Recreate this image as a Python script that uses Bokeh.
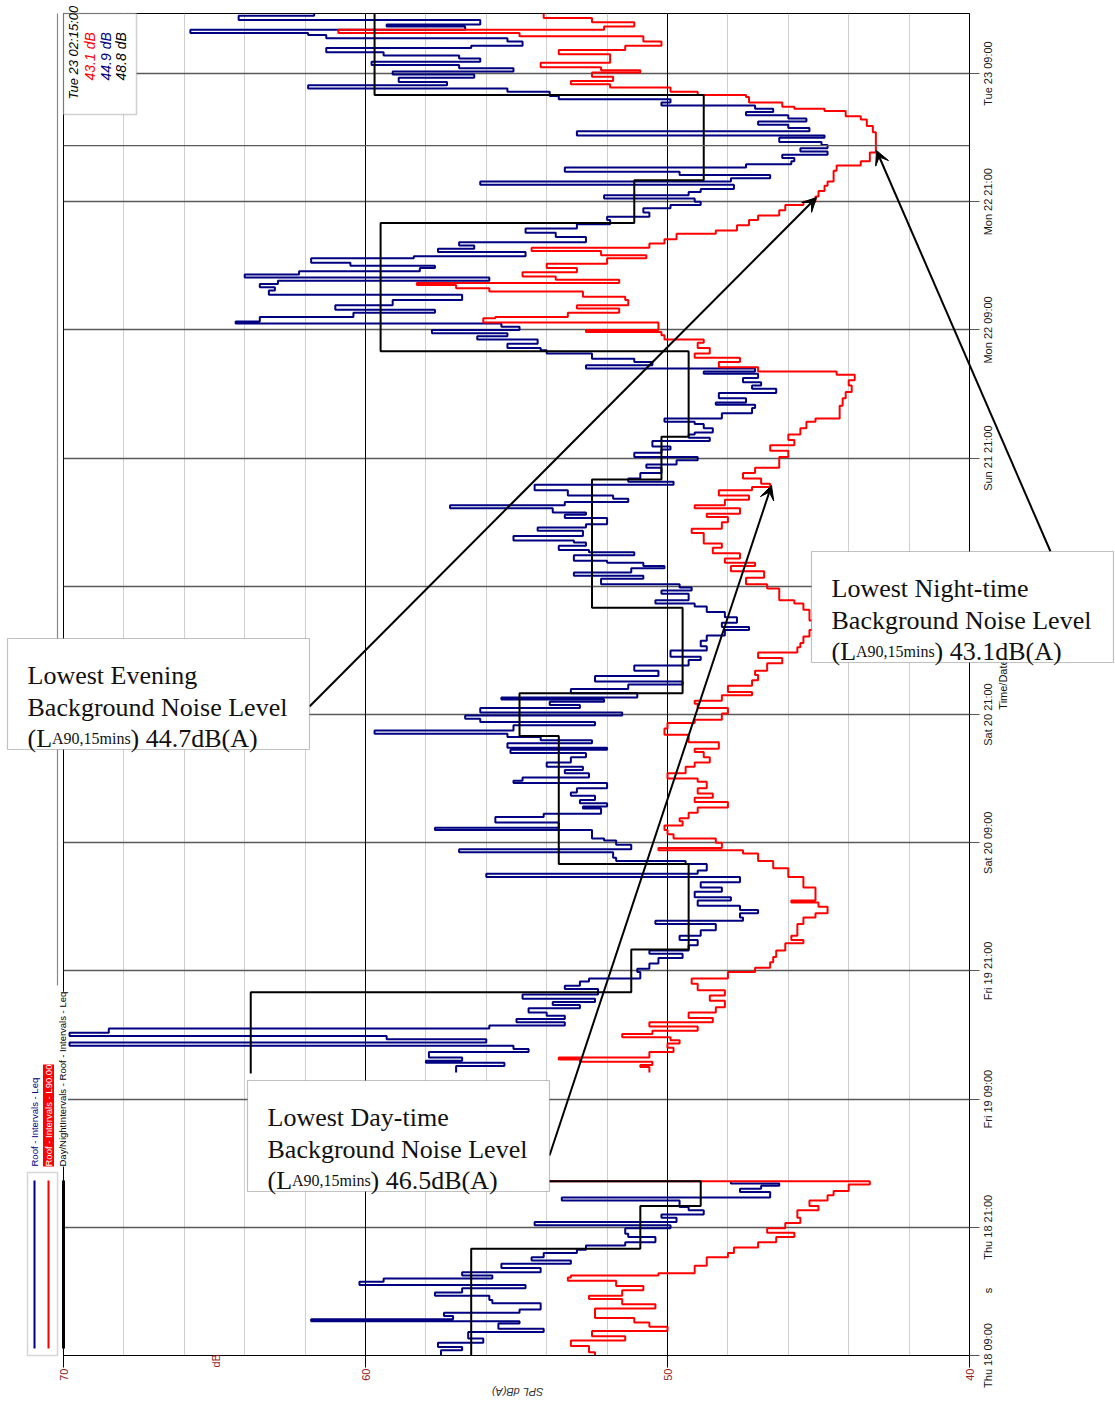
import numpy as np
from math import pi
from bokeh.plotting import figure
from bokeh.models import (Range1d, FixedTicker, Grid, Span, BoxAnnotation,
                          Label, Arrow, VeeHead)
from bokeh.embed import file_html
from bokeh.resources import INLINE

# ---------------- data (time in hours after Thu 18 09:00, level in dB) -------------
tick_hours = [0, 12, 24, 36, 48, 60, 72, 84, 96, 108, 120]
tick_labels = ["Thu 18 09:00", "Thu 18 21:00", "Fri 19 09:00", "Fri 19 21:00",
               "Sat 20 09:00", "Sat 20 21:00", "Sun 21 09:00", "Sun 21 21:00",
               "Mon 22 09:00", "Mon 22 21:00", "Tue 23 09:00"]
db_ticks = [70, 60, 50, 40]
db_minor = list(range(40, 71, 2))
db_major = [60, 50]
t_end_a = 16.3
t_end_b = 125.62
cursor_hour = 113.25
l90_gap_level = 55.0

leq_a_t = [0.0, 0.5, 0.8, 1.2, 1.6, 2.2, 2.5, 3.0, 3.2, 3.4, 3.7, 4.0, 4.3, 4.9, 5.2, 5.6,
           5.9, 6.3, 6.6, 6.9, 7.2, 7.5, 7.8, 8.2, 8.6, 8.9, 9.2, 9.6, 9.9, 10.3, 10.6,
           11.1, 11.4, 11.9, 12.2, 12.5, 12.9, 13.2, 13.6, 13.9, 14.5, 14.8, 15.3,
           15.6, 15.9, 16.1]
leq_a_v = [57.5, 56.8, 57.6, 56.1, 56.6, 54.1, 55.6, 54.9, 61.8, 57.1, 57.4, 54.9, 54.2,
           55.8, 55.9, 57.7, 56.8, 54.7, 60.2, 59.4, 55.8, 56.8, 54.2, 55.5, 53.2, 54.5,
           54.1, 53.0, 52.7, 51.4, 50.4, 51.3, 51.4, 49.9, 54.4, 49.7, 50.2, 48.8, 49.3,
           49.6, 53.5, 46.6, 47.6, 46.9, 46.3, 47.9]

leq_b_t = [26.5, 27.1, 27.4, 27.6, 27.9, 28.4, 28.7, 29.0, 29.3, 29.6, 29.9, 30.2, 30.6,
           30.9, 31.2, 31.5, 31.8, 32.1, 32.5, 32.8, 33.1, 33.4, 33.8, 34.3, 34.6, 35.0,
           35.3, 35.9, 36.2, 36.7, 37.2, 37.6, 37.9, 38.4, 38.9, 39.3, 39.8, 40.4, 40.7,
           41.0, 41.4, 41.7, 42.1, 42.6, 42.9, 43.4, 43.8, 44.3, 44.8, 45.1, 45.4, 46.0,
           46.3, 46.6, 47.1, 47.4, 47.8, 48.2, 48.4, 49.2, 49.4, 49.9, 50.4, 50.7, 51.2,
           51.4, 51.7, 52.0, 52.4, 52.7, 53.1, 53.6, 53.8, 54.1, 54.5, 54.8, 55.1, 55.5,
           56.0, 56.4, 56.7, 56.9, 57.3, 57.6, 57.9, 58.2, 58.5, 59.0, 59.3, 59.6, 59.9,
           60.2, 60.6, 60.9, 61.2, 61.4, 61.6, 62.0, 62.4, 62.8, 63.1, 63.6, 64.1, 64.6,
           65.1, 65.4, 66.0, 66.4, 66.9, 67.4, 67.9, 68.2, 68.6, 69.1, 69.6, 70.1, 70.4,
           70.7, 71.3, 71.6, 71.9, 72.2, 72.7, 73.0, 73.3, 73.7, 73.9, 74.2, 74.4, 74.9,
           75.2, 75.4, 75.8, 76.1, 76.3, 76.7, 77.2, 77.5, 77.8, 78.4, 78.7, 78.9, 79.3,
           79.6, 79.9, 80.2, 80.5, 81.0, 81.5, 81.8, 82.1, 82.6, 83.1, 83.4, 83.8, 84.1,
           84.5, 84.8, 85.1, 85.6, 85.9, 86.2, 86.4, 86.8, 87.2, 87.4, 87.7, 88.2, 88.7,
           89.0, 89.2, 89.6, 90.1, 90.5, 90.8, 91.1, 91.5, 91.9, 92.1, 92.4, 92.7, 93.0,
           93.3, 93.8, 94.1, 94.3, 94.7, 95.1, 95.4, 95.7, 96.0, 96.3, 96.6, 96.8, 97.2,
           97.6, 97.9, 98.3, 98.8, 99.1, 99.3, 99.7, 100.0, 100.3, 100.6, 100.9, 101.2,
           101.5, 101.8, 102.0, 102.3, 102.7, 102.9, 103.3, 103.6, 103.9, 104.2, 104.7,
           105.1, 105.5, 105.9, 106.3, 106.6, 107.0, 107.4, 107.7, 108.0, 108.3, 108.6,
           108.9, 109.2, 109.6, 109.9, 110.2, 110.5, 110.8, 111.2, 111.5, 111.8, 112.1,
           112.4, 112.7, 113.0, 113.3, 113.6, 114.0, 114.2, 114.6, 114.9, 115.2, 115.5,
           115.8, 116.1, 116.4, 116.7, 117.0, 117.3, 117.6, 117.9, 118.3, 118.6, 118.9,
           119.2, 119.6, 119.9, 120.2, 120.5, 120.8, 121.1, 121.4, 121.7, 122.0, 122.4,
           122.6, 123.0, 123.3, 123.6, 123.8, 124.1, 124.4, 124.6, 125.0, 125.4]
leq_b_v = [57.0, 55.4, 58.0, 56.8, 57.9, 54.6, 55.1, 69.8, 56.0, 59.3, 69.8, 68.5, 55.9,
           53.4, 55.0, 53.4, 54.0, 54.6, 52.9, 53.8, 52.4, 54.8, 52.3, 53.4, 52.9, 52.6,
           50.9, 51.0, 50.6, 50.3, 49.5, 50.6, 49.3, 49.0, 49.6, 48.9, 48.4, 50.4, 47.5,
           47.6, 47.0, 47.6, 49.0, 47.9, 49.1, 48.2, 48.9, 47.6, 56.0, 49.0, 48.7, 49.4,
           51.7, 51.8, 56.9, 51.2, 51.7, 52.1, 52.5, 57.7, 53.6, 55.7, 54.1, 52.2, 52.8,
           52.0, 52.9, 52.4, 53.2, 53.0, 52.0, 55.1, 54.8, 52.6, 53.4, 52.8, 54.0, 53.2,
           52.7, 55.2, 52.0, 55.3, 52.5, 54.2, 55.3, 59.7, 55.1, 52.4, 56.2, 56.7, 51.5,
           56.2, 52.9, 53.9, 52.1, 55.5, 51.0, 53.2, 51.3, 49.5, 52.4, 50.3, 51.1, 49.3,
           48.9, 49.9, 48.7, 48.9, 48.7, 48.1, 47.3, 48.2, 47.7, 48.1, 48.7, 49.1, 50.4,
           49.3, 50.2, 49.2, 49.6, 52.2, 50.8, 53.1, 51.2, 50.1, 50.8, 52.0, 53.1, 51.1,
           52.6, 53.6, 52.7, 53.1, 55.1, 52.8, 54.3, 52.7, 52.0, 53.4, 52.7, 53.8, 57.2,
           53.4, 51.3, 51.8, 53.3, 54.4, 49.8, 51.3, 50.9, 50.2, 50.7, 49.7, 49.0, 51.1,
           50.2, 49.9, 50.5, 48.6, 49.3, 49.1, 48.5, 48.8, 49.1, 50.1, 48.2, 47.2, 47.1,
           48.4, 47.4, 48.3, 46.4, 47.2, 46.9, 47.5, 47.0, 48.8, 47.1, 52.7, 50.5, 51.1,
           52.5, 54.0, 54.2, 55.3, 54.3, 56.3, 55.3, 57.8, 54.9, 55.5, 64.3, 63.5, 60.4,
           57.7, 61.0, 59.1, 56.8, 56.8, 63.2, 63.0, 63.5, 62.9, 55.9, 64.0, 62.2,
           58.2, 57.7, 60.5, 61.8, 58.4, 54.7, 57.6, 56.4, 56.9, 52.7, 53.7,
           54.7, 53.0, 51.9, 52.0, 50.6, 50.8, 49.9, 48.9, 49.1, 52.1, 49.3,
           48.9, 47.8, 56.2, 47.9, 46.6, 49.6, 53.4, 47.4, 45.9, 45.8, 46.2,
           44.7, 45.6, 44.7, 44.9, 46.3, 44.8, 53.0, 45.3, 46.0, 47.0, 45.4,
           46.0, 47.4, 46.5, 47.1, 50.2, 49.9, 53.6, 53.9, 55.3, 61.9, 57.3,
           58.9, 56.4, 59.1, 55.1, 56.9, 59.8, 56.2, 56.9, 59.4, 61.3, 56.5,
           54.8, 55.3, 61.3, 61.9, 65.8, 56.7, 59.3, 56.2, 64.2, 61.7]

l90_a_t = [0.0, 0.3, 0.9, 1.4, 1.8, 2.3, 2.7, 3.1, 3.5, 4.4, 4.8, 5.3, 5.6, 6.1, 6.5, 7.0,
           7.3, 7.5, 7.7, 8.4, 9.2, 9.6, 10.1, 10.6, 11.1, 11.5, 11.9, 12.4, 12.9, 13.6,
           14.0, 14.5, 15.0, 15.4, 16.0]
l90_a_v = [52.4, 52.6, 53.2, 51.4, 52.5, 50.0, 50.6, 51.1, 52.4, 50.4, 51.5, 52.6, 51.5,
           50.8, 51.7, 53.3, 53.2, 50.3, 49.1, 48.7, 48.0, 47.8, 47.0, 46.4, 45.8, 46.7,
           46.1, 45.6, 45.7, 45.0, 45.3, 44.7, 44.5, 44.0, 43.3]

l90_b_t = [26.5, 27.0, 27.2, 27.5, 27.7, 27.9, 28.4, 28.8, 29.2, 29.5, 29.8, 30.1, 30.4,
           30.8, 31.2, 31.6, 32.1, 32.6, 33.2, 33.7, 34.2, 34.8, 35.3, 35.9, 36.3, 36.8,
           37.3, 37.9, 38.6, 38.9, 39.3, 39.8, 40.4, 41.0, 41.4, 42.0, 42.4, 42.6, 43.8,
           44.8, 45.6, 46.3, 47.0, 47.3, 47.5, 48.0, 48.4, 48.8, 49.2, 49.6, 50.0, 50.3,
           50.8, 51.3, 51.8, 52.2, 52.6, 53.1, 53.7, 54.0, 54.5, 55.1, 55.5, 56.0, 56.5,
           56.8, 57.4, 58.1, 58.7, 59.2, 59.5, 60.1, 60.6, 61.0, 61.3, 61.8, 62.1, 62.7,
           63.2, 63.7, 64.1, 64.8, 65.3, 65.8, 66.3, 66.7, 67.3, 67.9, 68.8, 69.8, 70.4,
           70.7, 71.8, 72.2, 72.8, 73.4, 73.9, 74.2, 74.6, 75.1, 75.6, 76.0, 77.0, 77.4,
           78.0, 78.5, 78.8, 79.3, 79.6, 80.1, 80.5, 81.0, 81.3, 81.6, 82.1, 82.6, 83.1,
           84.1, 84.7, 85.2, 85.7, 86.2, 86.8, 87.4, 87.7, 88.9, 89.6, 90.2, 90.8, 91.3,
           91.8, 92.1, 92.5, 93.0, 93.4, 93.8, 94.3, 94.8, 95.1, 95.5, 95.8, 96.0, 96.7,
           97.1, 97.2, 97.6, 98.0, 98.3, 98.8, 99.1, 99.6, 99.9, 100.2, 100.4, 100.7,
           101.0, 101.4, 101.8, 102.2, 102.7, 103.0, 103.4, 103.7, 104.1, 104.5, 105.0,
           105.3, 105.8, 106.3, 106.7, 107.2, 107.7, 108.0, 108.5, 109.0, 109.5, 109.9,
           110.9, 111.4, 111.8, 112.6, 114.5, 115.1, 115.7, 116.0, 116.5, 116.7, 116.9,
           117.3, 117.8, 118.0, 118.3, 118.7, 119.0, 119.3, 119.7, 120.1, 120.3, 120.6,
           121.0, 121.8, 122.2, 122.6, 123.0, 123.5, 123.8, 124.1, 124.4, 124.8, 125.2]
l90_b_v = [50.6, 50.9, 50.5, 52.9, 53.6, 50.6, 49.8, 50.0, 49.6, 49.9, 51.5, 50.5, 49.0,
           50.6, 48.5, 49.3, 48.4, 48.1, 48.6, 48.1, 49.0, 49.2, 48.0, 47.1, 46.6, 46.5,
           46.4, 46.1, 45.5, 45.9, 45.7, 45.7, 45.5, 45.1, 44.7, 45.0, 45.9, 45.1, 45.5,
           46.0, 46.5, 47.0, 47.5, 50.3, 48.2, 48.4, 49.8, 50.0, 50.1, 49.5, 49.6, 49.3,
           49.0, 48.0, 49.1, 48.5, 49.0, 48.7, 49.0, 50.0, 49.4, 49.1, 48.6, 48.8, 49.1,
           48.3, 49.3, 50.1, 50.0, 49.1, 48.2, 48.0, 49.0, 49.1, 48.2, 47.2, 48.0, 47.2,
           47.0, 47.1, 46.7, 46.2, 47.0, 45.7, 45.6, 45.5, 45.3, 45.2, 45.3, 45.5, 45.8,
           46.3, 46.7, 47.4, 46.8, 47.9, 47.1, 48.1, 47.6, 48.5, 48.2, 48.8, 49.2, 48.2,
           48.0, 48.7, 47.6, 49.1, 48.1, 47.3, 48.3, 47.2, 46.6, 46.9, 47.5, 47.1, 46.3,
           46.0, 46.6, 45.8, 46.0, 45.6, 45.4, 45.1, 44.3, 44.2, 44.1, 43.9, 44.0, 43.8,
           44.4, 47.0, 48.3, 47.6, 49.1, 48.6, 49.0, 48.8, 50.1, 50.2, 52.7, 50.3, 56.1,
           55.7, 53.3, 51.6, 53.0, 51.3, 51.4, 52.8, 55.9, 57.0, 58.3, 51.6, 53.7,
           54.8, 53.0, 54.0, 52.0, 50.7, 52.2, 54.5, 50.6, 50.1, 49.7, 48.4,
           47.7, 47.3, 47.0, 46.3, 46.1, 45.5, 45.1, 45.0, 44.8, 44.7, 44.5,
           44.4, 43.6, 43.3, 43.1, 43.2, 43.4, 43.6, 44.1, 44.8, 45.8, 46.2,
           47.3, 47.4, 49.0, 49.9, 51.9, 53.2, 51.8, 52.5, 50.9, 52.2, 54.2,
           51.9, 53.6, 51.4, 50.2, 50.8, 54.9, 60.9, 52.1, 51.1, 52.5, 54.1]

dn_a_t = [0.0, 10.0, 14.0]
dn_a_v = [56.5, 50.9, 48.9]
dn_b_t = [26.4, 34.0, 38.0, 46.0, 58.0, 62.0, 70.0, 82.0, 86.0, 94.0, 106.0, 110.0, 118.0]
dn_b_v = [63.8, 51.2, 49.3, 53.6, 54.9, 49.5, 52.5, 50.2, 49.3, 59.5, 51.1, 48.8, 59.7]

cursor_texts = ["Tue 23 02:15:00", "43.1 dB", "44.9 dB", "48.8 dB"]
legend_texts = ["Roof - Intervals - Leq", "Roof - Intervals - L90.00",
                "Day/NightIntervals - Roof - Intervals - Leq"]

# ---------------- helpers ----------------
def vstep(t, v, t_end):
    xs, ys = [], []
    for i in range(len(t)):
        tn = t[i + 1] if i + 1 < len(t) else t_end
        xs += [v[i], v[i]]
        ys += [t[i], tn]
    return xs, ys

BLUE = "#000080"
RED = "#ff0000"
SANS = "Liberation Sans"
SERIF = "Liberation Serif"
W, H = 1115, 1405
B_LEFT, B_RIGHT, B_TOP, B_BOTTOM = 63, 146, 13, 50

# ================= main chart =================
p = figure(width=W, height=H, output_backend="svg", toolbar_location=None,
           x_range=Range1d(70, 40), y_range=Range1d(0, t_end_b),
           y_axis_location="right", min_border_left=B_LEFT, min_border_right=B_RIGHT,
           min_border_top=B_TOP, min_border_bottom=B_BOTTOM)
p.outline_line_color = "black"
p.outline_line_width = 1

xa = p.xaxis[0]
xa.ticker = FixedTicker(ticks=db_ticks)
xa.major_label_orientation = pi / 2
xa.major_label_text_color = "#9b1c1c"
xa.major_label_text_font = SANS
xa.major_label_text_font_size = "11px"
xa.major_tick_out = 12
xa.major_tick_in = 0
xa.minor_tick_out = 0
xa.minor_tick_in = 0
xa.major_label_standoff = 1
xa.axis_line_color = "black"

ya = p.yaxis[0]
ya.ticker = FixedTicker(ticks=tick_hours)
ya.major_label_overrides = {h: "" for h in tick_hours}   # labels drawn centred below
ya.major_tick_out = 10
ya.major_tick_in = 0
ya.major_tick_line_color = "#555555"
ya.minor_tick_out = 0
ya.minor_tick_in = 0
ya.axis_line_color = "black"

p.xgrid.ticker = FixedTicker(ticks=db_minor)
p.xgrid.grid_line_color = "#cfcfcf"
p.xgrid.grid_line_width = 1
p.add_layout(Grid(dimension=0, ticker=FixedTicker(ticks=db_major),
                  grid_line_color="black", grid_line_width=1))
p.ygrid.ticker = FixedTicker(ticks=tick_hours)
p.ygrid.grid_line_color = "#5a5a5a"
p.ygrid.grid_line_width = 1.3
p.add_layout(Span(location=cursor_hour, dimension="width", line_color="#5a5a5a",
                  line_width=1.3))

xs, ys = vstep(leq_a_t, leq_a_v, t_end_a)
p.line(xs, ys, line_color=BLUE, line_width=2)
xs, ys = vstep(leq_b_t, leq_b_v, t_end_b)
p.line(xs, ys, line_color=BLUE, line_width=2)

xs, ys = vstep(l90_a_t, l90_a_v, t_end_a)
xs.append(l90_gap_level); ys.append(t_end_a)
p.line(xs, ys, line_color=RED, line_width=2)
xs, ys = vstep(l90_b_t, l90_b_v, t_end_b)
p.line(xs, ys, line_color=RED, line_width=2)

xs, ys = vstep(dn_a_t, dn_a_v, t_end_a)
xs.append(dn_b_v[0]); ys.append(t_end_a)
p.line(xs, ys, line_color="black", line_width=2)
xs, ys = vstep(dn_b_t, dn_b_v, t_end_b)
p.line(xs, ys, line_color="black", line_width=2)

# ================= annotation layer (page pixels, drawn over the chart) =================
q = figure(width=W, height=H, output_backend="svg", toolbar_location=None,
           x_range=Range1d(0, W), y_range=Range1d(H, 0),
           x_axis_type=None, y_axis_type=None,
           min_border_left=0, min_border_right=0, min_border_top=0, min_border_bottom=0)
q.background_fill_alpha = 0
q.border_fill_alpha = 0
q.outline_line_color = None
q.grid.visible = False
q.styles = {"position": "absolute", "top": "0px", "left": "0px"}
# a time scale on the overlay that coincides with the chart's time axis
k = (H - B_TOP - B_BOTTOM) / t_end_b
q.extra_y_ranges = {"hours": Range1d(-B_BOTTOM / k, (H - B_BOTTOM) / k)}

def lab(x, y, text, angle=pi / 2, align="left", size="11px", color="#111111",
        style="normal", font=SANS, baseline="middle", **kw):
    q.add_layout(Label(x=x, y=y, text=text, angle=angle, text_align=align,
                       text_baseline=baseline, text_font=font, text_font_size=size,
                       text_color=color, text_font_style=style, **kw))

# time tick labels, centred on the ticks
for h, s in zip(tick_hours, tick_labels):
    lab(987, h, s, align="center", y_range_name="hours", color="#1a1a1a")

# cursor read-out box
q.add_layout(BoxAnnotation(left=63, right=136, top=13, bottom=114, fill_color="white",
                           fill_alpha=1, line_color="#666666", line_width=1.5))
lab(73, 99, cursor_texts[0], size="13px", style="italic", color="black")
for px, txt, col in zip([89, 105, 120], cursor_texts[1:], [RED, BLUE, "black"]):
    lab(px, 80, txt, size="14px", style="italic", color=col)

# axis texts
lab(215, 1367, "dB", color="#9b1c1c")
lab(517, 1391, "SPL dB(A)", angle=pi, align="center", style="italic", color="#333333")
lab(1002, 684, "Time/Date", align="center")
lab(987, 1290, "s", align="center")

# legend
q.add_layout(Arrow(end=None, x_start=57, y_start=13, x_end=57, y_end=985,
                   line_color="#888888", line_width=1.2))
q.add_layout(BoxAnnotation(left=27, right=57, top=1172, bottom=1355, fill_alpha=0,
                           line_color="#777777", line_width=1.5))
for px, col, lw in [(34, BLUE, 2), (48, RED, 2), (63, "black", 3)]:
    q.add_layout(Arrow(end=None, x_start=px, y_start=1180, x_end=px, y_end=1348,
                       line_color=col, line_width=lw))
lab(34, 1166, legend_texts[0], size="9.5px", color=BLUE)
lab(48, 1166, legend_texts[1], size="9.5px", color="white", background_fill_color=RED)
lab(62, 1166, legend_texts[2], size="9.5px", color="black", background_fill_color="white")

# arrows
for (sx, sy), (ex, ey) in [((1050, 551), (876, 150)), ((309, 706), (816, 197)),
                           ((549, 1155), (771, 485))]:
    q.add_layout(Arrow(end=VeeHead(size=14, fill_color="black", line_color="black"),
                       x_start=sx, y_start=sy, x_end=ex, y_end=ey,
                       line_color="black", line_width=2))

# annotation boxes
boxes = [(811, 551, "Lowest Night-time", ") 43.1dB(A)"),
         (7, 638, "Lowest Evening", ") 44.7dB(A)"),
         (247, 1080, "Lowest Day-time", ") 46.5dB(A)")]
for lx, ty, line1, tail in boxes:
    q.add_layout(BoxAnnotation(left=lx, right=lx + 302, top=ty, bottom=ty + 111,
                               fill_color="white", fill_alpha=1, line_color="#333333",
                               line_width=1.2))
    tx = lx + 20
    kw = dict(angle=0, font=SERIF, baseline="alphabetic", color="#111111")
    lab(tx, ty + 37, line1, size="26px", **kw)
    lab(tx, ty + 69, "Background Noise Level", size="26px", **kw)
    lab(tx, ty + 100, "(L", size="26px", **kw)
    lab(tx + 24.5, ty + 100, "A90,15mins", size="16px", **kw)
    lab(tx + 103, ty + 100, tail, size="26px", **kw)

open("out.html", "w").write(file_html([p, q], INLINE))
